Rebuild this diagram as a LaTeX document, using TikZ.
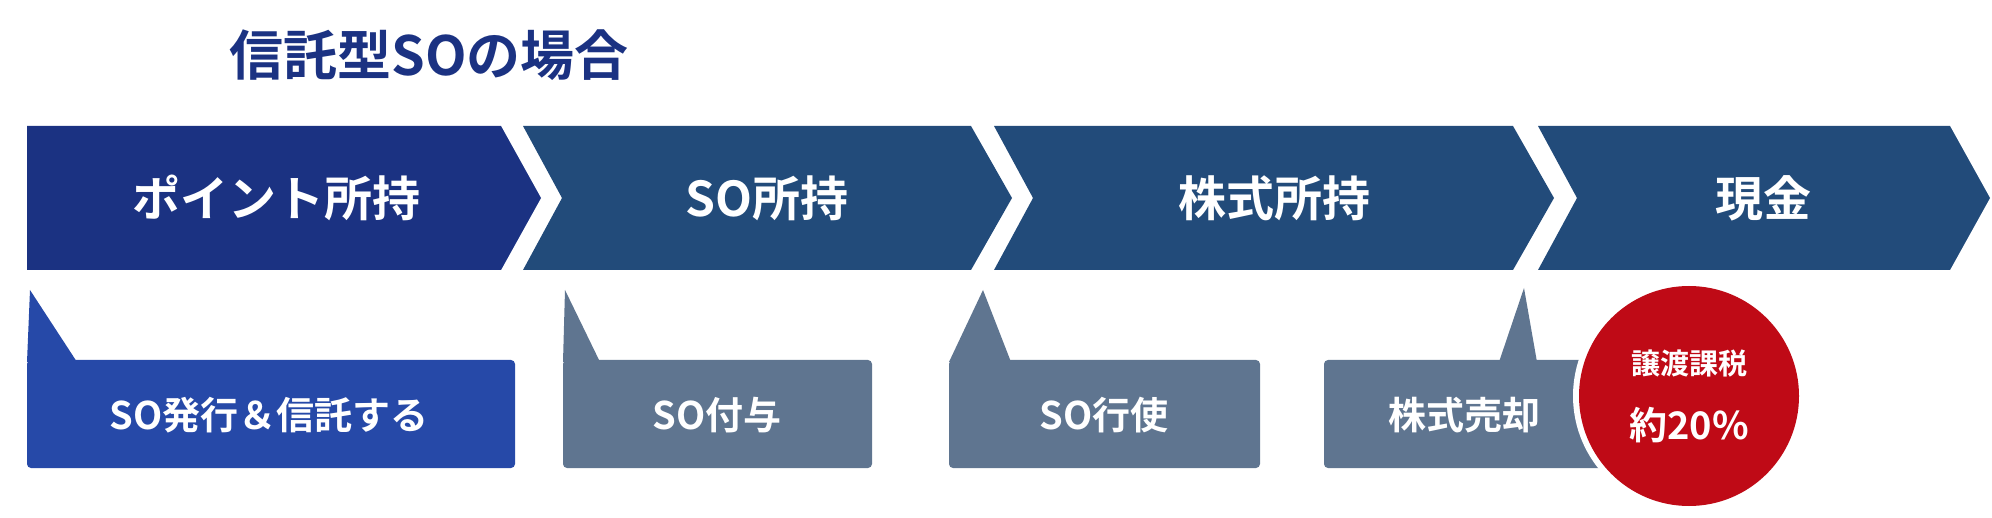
\documentclass[tikz,border=0pt]{standalone}
\usepackage{fontspec}
\setmainfont{Noto Sans CJK JP Bold}
\definecolor{navy}{HTML}{1B3282}
\definecolor{steel}{HTML}{224B7A}
\definecolor{boxblue}{HTML}{2649A8}
\definecolor{grey}{HTML}{5F7590}
\definecolor{redc}{HTML}{BF0A16}
\begin{document}
\begin{tikzpicture}[x=1pt,y=-1pt,
  lab/.style={text=white,font=\fontsize{48}{50}\selectfont},
  sub/.style={text=white,font=\fontsize{38}{40}\selectfont}]
\useasboundingbox (0,0) rectangle (1992,518);
% arrows
\fill[navy] (27,126) -- (501,126) -- (541,198) -- (501,270) -- (27,270) -- cycle;
\fill[steel] (523,126) -- (971,126) -- (1012,198) -- (971,270) -- (523,270) -- (562,198) -- cycle;
\fill[steel] (994,126) -- (1513,126) -- (1554,198) -- (1513,270) -- (994,270) -- (1033,198) -- cycle;
\fill[steel] (1538,126) -- (1950,126) -- (1990,198) -- (1950,270) -- (1538,270) -- (1577,198) -- cycle;
\node[lab] (a1) at (276,198) {ポイント所持};
\node[lab] (a2) at (767,198) {SO所持};
\node[lab] (a3) at (1274,198) {株式所持};
\node[lab] (a4) at (1763,198) {現金};
% callouts
\fill[boxblue,rounded corners=4pt] (27,360) rectangle (515,468);
\fill[boxblue] (30,290) -- (27,362) -- (77,362) -- cycle;
\fill[grey,rounded corners=4pt] (563,360) rectangle (872,468);
\fill[grey] (565,290) -- (563,362) -- (600,362) -- cycle;
\fill[grey,rounded corners=4pt] (949,360) rectangle (1260,468);
\fill[grey] (983,290) -- (949,362) -- (1011,362) -- cycle;
\fill[grey,rounded corners=4pt] (1324,360) rectangle (1640,468);
\fill[grey] (1524,288) -- (1499,362) -- (1537,362) -- cycle;
\node[sub] (b1) at (269,415) {SO発行＆信託する};
\node[sub] (b2) at (717,415) {SO付与};
\node[sub] (b3) at (1104,415) {SO行使};
\node[sub] (b4) at (1464,415) {株式売却};
% circle
\fill[white] (1689,396) circle (116);
\fill[redc] (1689,396) circle (110);
\node[text=white,font=\fontsize{29}{30}\selectfont] (c1) at (1689,363) {譲渡課税};
\node[text=white,font=\fontsize{38}{40}\selectfont] (c2) at (1689,425) {約20\%};
% title
\node[text=navy,font=\fontsize{54}{56}\selectfont,anchor=west] (t) at (226,55) {信託型SOの場合};
\end{tikzpicture}
\end{document}
